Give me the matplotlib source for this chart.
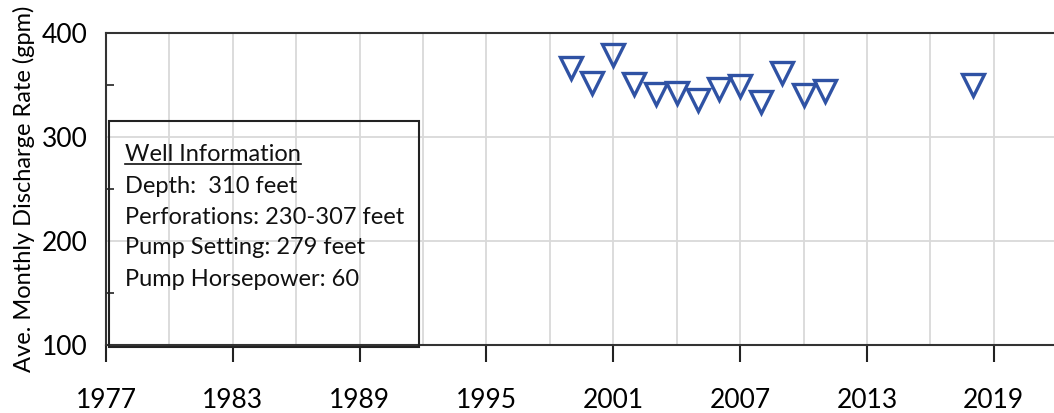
import matplotlib
matplotlib.use('Agg')
import matplotlib.pyplot as plt
from matplotlib.patches import Rectangle
from matplotlib.lines import Line2D
from matplotlib.ticker import MultipleLocator

plt.rcParams['font.family'] = ['Lato', 'DejaVu Sans']

# average monthly discharge by year
years = [1999, 2000, 2001, 2002, 2003, 2004, 2005, 2006, 2007, 2008, 2009, 2010, 2011, 2018]
rate = [367, 352, 379, 351, 342, 343, 336, 347, 349, 334, 362, 341, 345, 350]

info_title = 'Well Information'
info_lines = ['Depth:  310 feet',
              'Perforations: 230-307 feet',
              'Pump Setting: 279 feet',
              'Pump Horsepower: 60']

fig = plt.figure(figsize=(10.54, 4.13), dpi=100)
ax = fig.add_axes([0.1006, 0.1646, 0.8994, 0.7543])

ax.plot(years, rate, linestyle='none', marker='v', markersize=16,
        markerfacecolor='none', markeredgecolor='#2F52A4', markeredgewidth=2.4,
        clip_on=False, zorder=5)

ax.set_xlim(1977, 2021.85)
ax.set_ylim(100, 400)
ax.xaxis.set_major_locator(MultipleLocator(6, offset=3))
ax.xaxis.set_minor_locator(MultipleLocator(3))
ax.yaxis.set_major_locator(MultipleLocator(100))
ax.yaxis.set_minor_locator(MultipleLocator(50))

ax.grid(True, which='both', axis='x', color='#d9d9d9', linewidth=1.3)
ax.grid(True, which='major', axis='y', color='#d9d9d9', linewidth=1.3)
ax.set_axisbelow(True)

for s in ['left', 'bottom', 'top']:
    ax.spines[s].set_color('#333333')
    ax.spines[s].set_linewidth(1.5)
ax.spines['right'].set_visible(False)

ax.tick_params(axis='x', which='major', length=12, width=1.5, color='#222222',
               direction='out', pad=19, labelsize=19)
ax.tick_params(axis='x', which='minor', length=0)
ax.tick_params(axis='y', which='major', length=0, pad=13, labelsize=19)
ax.tick_params(axis='y', which='minor', length=6, width=1.2, direction='in',
               color='#222222')
ax.set_ylabel('Ave. Monthly Discharge Rate (gpm)', fontsize=17, labelpad=5)

# info box
ax.add_patch(Rectangle((1977.15, 98), 14.65, 217.5, transform=ax.transData,
                       fill=False, edgecolor='#222222', linewidth=1.5,
                       clip_on=False, zorder=4))

trans = fig.transFigure
x0 = 125 / 1054
ys = [155, 186, 217, 248, 280]
t = fig.text(x0, 1 - ys[0] / 413, info_title, fontsize=17, va='center',
             ha='left', color='#111111')
for yy, line in zip(ys[1:], info_lines):
    fig.text(x0, 1 - yy / 413, line, fontsize=17, va='center', ha='left',
             color='#111111')

fig.canvas.draw()
bb = t.get_window_extent()
ul_y = (bb.y0 + 1) / fig.bbox.height
fig.add_artist(Line2D([bb.x0 / fig.bbox.width, bb.x1 / fig.bbox.width],
                      [ul_y, ul_y], color='#111111', linewidth=1.2,
                      transform=trans))

fig.savefig('out.png', dpi=100)
